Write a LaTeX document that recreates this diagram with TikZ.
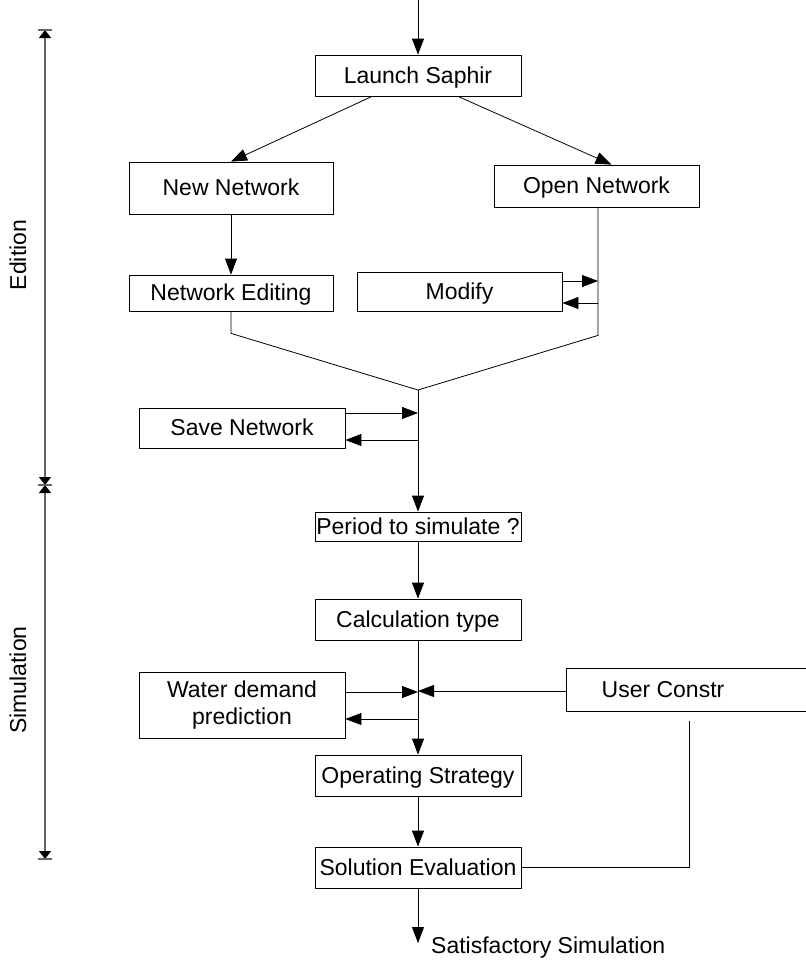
\documentclass[tikz,border=0pt]{standalone}
\usepackage{fontspec}
\setmainfont{Liberation Sans}
\usetikzlibrary{arrows.meta,calc}
\begin{document}
\begin{tikzpicture}[x=1pt,y=-1pt,
  box/.style={draw, line width=0.8pt, rectangle, inner sep=0pt, minimum width=206pt, minimum height=41pt,
    font=\fontsize{23}{26.5}\selectfont, align=center},
  onebox/.style={box, text height=18pt, text depth=3pt},
  txt/.style={inner sep=0pt, font=\fontsize{23}{26.5}\selectfont},
  flow/.style={line width=0.8pt, black},
  arr/.style={flow, -{Triangle[width=12pt,length=16pt]}},
  axis/.style={line width=1.2pt, black!60, {Triangle[width=12pt,length=8pt,black]}-{Triangle[width=12pt,length=8pt,black]}},
  axbar/.style={line width=1.2pt, black!60}
]
\useasboundingbox (0,0) rectangle (806,962);

% process boxes
\node[onebox] (launch) at (418,75.5) {Launch Saphir};
\node[onebox, minimum width=204pt, minimum height=52pt] (newnet) at (231,188) {New Network};
\node[onebox, minimum width=205pt, minimum height=42pt] (opennet) at (596.5,186) {Open Network};
\node[onebox, minimum width=204pt, minimum height=36pt] (neted) at (231,293) {Network Editing};
\node[onebox, minimum width=205pt, minimum height=39pt] (modify) at (459.5,291.5) {Modify};
\node[onebox, minimum height=40pt] (save) at (242,428) {Save Network};
\node[onebox, minimum height=29pt] (period) at (418,526.5) {Period to simulate ?};
\node[onebox] (calc) at (418,619.5) {Calculation type};
\node[box, minimum height=66pt] (water) at (242,705) {Water demand\\prediction};
\node[onebox] (opstrat) at (418,775.5) {Operating Strategy};
\node[onebox] (solev) at (418,867.5) {Solution Evaluation};

% user constraints box, running off the right edge
\node[inner sep=0pt, minimum width=250pt, minimum height=42pt] (uc) at (692,690) {};
\draw[flow] (uc.north east) -| (uc.south west) -- (uc.south east);
\node[txt, text height=18pt, text depth=3pt] (uct) at (663,690) {User Constr};

% entry arrow
\coordinate (start) at (418,0);
\draw[arr] (start) -- (launch.north);

% branches
\draw[arr] ($(launch.south)+(-46,0)$) -- (newnet.north);
\draw[arr] ($(launch.south)+(40,0)$) -- ($(opennet.north)+(15,0)$);
\draw[arr] (newnet.south) -- (neted.north);

% merge of both branches
\coordinate (lbend) at ($(neted.south)+(0,22)$);
\coordinate (rbend) at ($(opennet.south)+(1.5,128)$);
\coordinate (merge) at (418,390);
\draw[flow] (neted.south) -- (lbend) -- (merge) -- (rbend) -- ($(opennet.south)+(1.5,0)$);
\draw[arr] (merge) -- (period.north);

% modify loop
\coordinate (m1) at ($(modify.east)+(0,-10.5)$);
\coordinate (m2) at ($(modify.east)+(0,11.5)$);
\draw[arr] (m1) -- (m1 -| rbend);
\draw[arr] (m2 -| rbend) -- (m2);

% save loop
\coordinate (s1) at ($(save.east)+(0,-15)$);
\coordinate (s2) at ($(save.east)+(0,12)$);
\draw[arr] (s1) -- (s1 -| merge);
\draw[arr] (s2 -| merge) -- (s2);

% simulation chain
\draw[arr] (period.south) -- (calc.north);
\draw[arr] (calc.south) -- (opstrat.north);
\draw[arr] (opstrat.south) -- (solev.north);

% water demand loop
\coordinate (w1) at ($(water.east)+(0,-13)$);
\coordinate (w2) at ($(water.east)+(0,14)$);
\draw[arr] (w1) -- (w1 -| calc.south);
\draw[arr] (w2 -| calc.south) -- (w2);

% user constraints
\coordinate (u1) at ($(uc.west)+(0,1)$);
\draw[arr] (u1) -- (u1 -| calc.south);
\coordinate (udrop) at (689,721);
\draw[flow] (udrop) |- (solev.east);

% exit
\coordinate (finish) at (418,943);
\draw[arr] (solev.south) -- (finish);
\node[txt, anchor=west] (sat) at (431,948) {Satisfactory Simulation};

% phase axis
\coordinate (axtop) at (45,30);
\coordinate (axmid) at (45,485);
\coordinate (axbot) at (45,859);
\draw[axis] (axtop) -- (axmid);
\draw[axis] (axmid) -- (axbot);
\draw[axbar] ($(axtop)+(-7,0)$) -- ($(axtop)+(7,0)$);
\draw[axbar] ($(axmid)+(-7,0)$) -- ($(axmid)+(7,0)$);
\draw[axbar] ($(axbot)+(-7,0)$) -- ($(axbot)+(7,0)$);
\node[txt, rotate=90] (edition) at (18,255) {Edition};
\node[txt, rotate=90] (simulation) at (18,680) {Simulation};
\end{tikzpicture}
\end{document}
